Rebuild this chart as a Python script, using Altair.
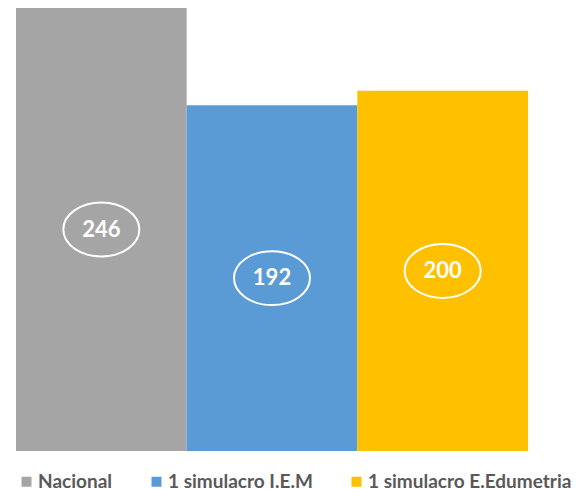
import altair as alt
import pandas as pd

categories = ["Nacional", "1 simulacro I.E.M", "1 simulacro E.Edumetria"]
values = [246, 192, 200]
colors = ["#A5A5A5", "#5B9BD5", "#FFC000"]

df = pd.DataFrame({"cat": categories, "value": values})

x_enc = alt.X("cat:N", sort=categories, axis=None,
              scale=alt.Scale(paddingInner=0, paddingOuter=0))
color_enc = alt.Color(
    "cat:N",
    sort=categories,
    scale=alt.Scale(domain=categories, range=colors),
    legend=alt.Legend(
        title=None, orient="none", direction="horizontal",
        legendX=1, legendY=464,
        symbolType="square", symbolSize=100, symbolStrokeWidth=0,
        symbolOpacity=1,
        labelFont="Lato", labelFontSize=19, labelFontWeight="bold",
        labelColor="#595959", labelOffset=2, columnPadding=34,
        labelLimit=400, padding=0,
    ),
)

base = alt.Chart(df).transform_calculate(mid="datum.value / 2")

bars = base.mark_bar(opacity=1).encode(
    x=x_enc,
    y=alt.Y("value:Q", axis=None, scale=alt.Scale(domain=[0, 246], nice=False, zero=True)),
    color=color_enc,
)

ellipse_path = "M -1 0 A 1 0.71 0 1 1 1 0 A 1 0.71 0 1 1 -1 0 Z"
ellipses = base.mark_point(
    shape=ellipse_path, size=5776, filled=False, stroke="white", strokeWidth=2, opacity=1
).encode(
    x=x_enc,
    y=alt.Y("mid:Q", scale=alt.Scale(domain=[0, 246], nice=False, zero=True)),
)

labels = base.mark_text(
    font="Lato", fontSize=22, fontWeight="bold", color="white",
    baseline="middle", align="center",
).encode(
    x=x_enc,
    y=alt.Y("mid:Q", scale=alt.Scale(domain=[0, 246], nice=False, zero=True)),
    text="value:Q",
)

chart = alt.layer(bars, ellipses, labels).properties(
    width=512, height=443, background="white",
    padding={"left": 8, "top": 0, "right": 0, "bottom": 10},
).configure_view(strokeWidth=0, stroke="transparent")

chart.save("out.html", embed_options={"renderer": "svg", "actions": False})
